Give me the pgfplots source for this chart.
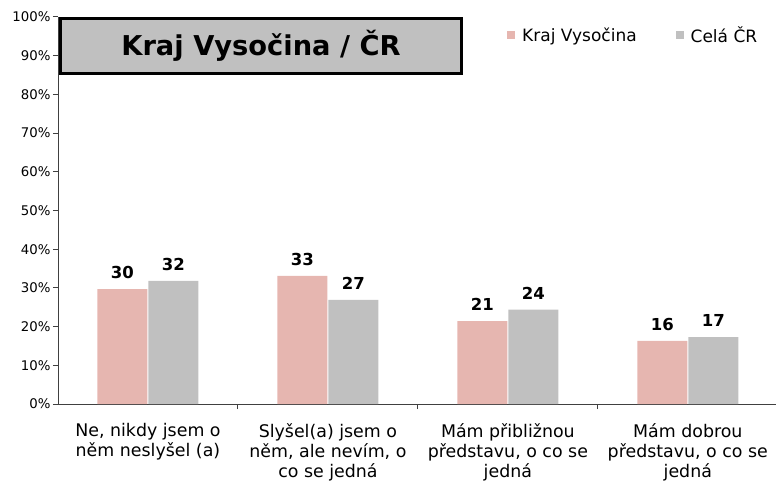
\documentclass[border=0pt]{standalone}
\usepackage{pgfplots}
\pgfplotsset{compat=1.18}
\usepackage{fontspec}
\setmainfont{DejaVu Sans}
\definecolor{kraj}{HTML}{E6B6B0}
\definecolor{cr}{HTML}{C0C0C0}
\definecolor{axgray}{HTML}{404040}
\begin{document}
\begin{tikzpicture}
\useasboundingbox (0,0) rectangle (776pt,482pt);
\begin{axis}[
  at={(58pt,78pt)}, anchor=south west,
  scale only axis, width=718pt, height=387pt,
  xmin=-0.5, xmax=3.49, ymin=0, ymax=100,
  axis x line*=bottom, axis y line*=left,
  axis line style={axgray, line width=1pt},
  /pgf/number format/assume math mode=true,
  ybar, bar width=50pt,
  tick align=outside, major tick length=5pt,
  tick style={axgray, line width=1pt},
  xtick={0.5,1.5,2.5}, xticklabels={},
  extra x ticks={0,1,2,3},
  extra x tick labels={{Ne, nikdy jsem o\\něm neslyšel (a)},{Slyšel(a) jsem o\\něm, ale nevím, o\\co se jedná},{Mám přibližnou\\představu, o co se\\jedná},{Mám dobrou\\představu, o co se\\jedná}},
  extra x tick style={major tick length=0pt, tick label style={align=center, font=\fontsize{17.4}{20}\selectfont, yshift=-16pt}},
  ytick={0,10,...,100},
  yticklabel={\pgfmathprintnumber{\tick}\%},
  yticklabel style={font=\fontsize{13.3}{15}\selectfont, xshift=1pt},
  every axis plot post/.append style={legend image code/.code={\fill[##1] (0pt,-4pt) rectangle (8pt,4pt);}},
  legend style={draw=none, fill=none, legend columns=2, font=\fontsize{17}{20}\selectfont,
    at={(0.6212,0.9535)}, anchor=west,
    /tikz/every odd column/.append style={column sep=5pt},
    /tikz/every even column/.append style={column sep=37pt}},
  point meta=explicit symbolic,
  nodes near coords,
  every node near coord/.append style={font=\bfseries\fontsize{16.5}{19}\selectfont, text=black, anchor=south, inner sep=0pt, yshift=10pt},
]
\addplot[fill=kraj, draw=none, bar shift=-25.5pt] coordinates {(0,29.7) [30] (1,33.1) [33] (2,21.4) [21] (3,16.3) [16]};
\addplot[fill=cr, draw=none, bar shift=25.5pt] coordinates {(0,31.8) [32] (1,26.9) [27] (2,24.4) [24] (3,17.3) [17]};
\legend{Kraj Vysočina, Celá ČR}
\end{axis}
\node[draw=black, line width=3pt, fill=cr, minimum width=401pt, minimum height=55pt, inner sep=0pt,
  font=\bfseries\fontsize{27.3}{31}\selectfont] at (261pt,436pt) {Kraj Vysočina / ČR};
\end{tikzpicture}
\end{document}
